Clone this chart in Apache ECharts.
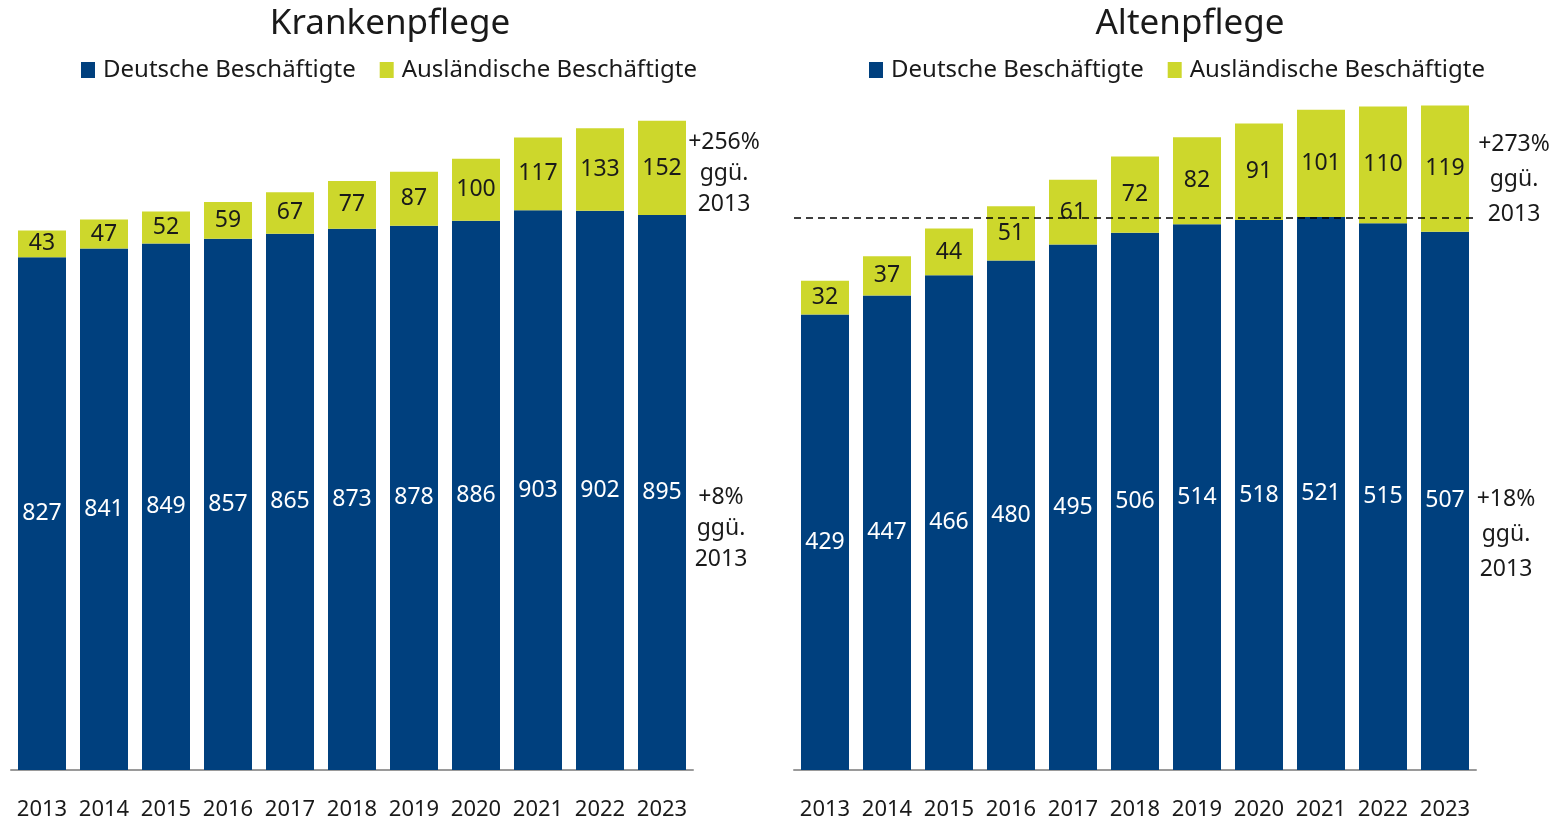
<!DOCTYPE html>
<html>
<head>
<meta charset="utf-8">
<script src="https://cdn.jsdelivr.net/npm/echarts@6/dist/echarts.min.js"></script>
<style>
html,body{margin:0;padding:0;background:#fff;}
#c{width:1558px;height:821px;}
</style>
</head>
<body>
<div id="c"></div>
<script>
const years = ['2013','2014','2015','2016','2017','2018','2019','2020','2021','2022','2023'];
const krankenDeutsche = [827, 841, 849, 857, 865, 873, 878, 886, 903, 902, 895];
const krankenAuslaender = [43, 47, 52, 59, 67, 77, 87, 100, 117, 133, 152];
const altenDeutsche = [429, 447, 466, 480, 495, 506, 514, 518, 521, 515, 507];
const altenAuslaender = [32, 37, 44, 51, 61, 72, 82, 91, 101, 110, 119];
const altenReferenz = 520;
const titles = ['Krankenpflege', 'Altenpflege'];
const seriesNames = ['Deutsche Beschäftigte', 'Ausländische Beschäftigte'];
const krankenNotes = ['+256%\nggü.\n2013', '+8%\nggü.\n2013'];
const altenNotes = ['+273%\nggü.\n2013', '+18%\nggü.\n2013'];

const NAVY = '#00407E';
const LIME = '#CDD72C';
const FONT = '"Noto Sans", sans-serif';
const TXT = '#1a1a1a';

const chart = echarts.init(document.getElementById('c'), null, {renderer: 'canvas'});

function xAxis(gi){
  return {
    type: 'category', gridIndex: gi, data: years,
    axisLine: {lineStyle: {color: '#9a9a9a', width: 2}},
    axisTick: {show: false},
    axisLabel: {color: TXT, fontSize: 22, fontFamily: FONT, margin: 29, interval: 0}
  };
}
function yAxis(gi, max){
  return {type: 'value', gridIndex: gi, min: 0, max: max, show: false, splitLine: {show: false}};
}
function bars(gi, name, data, color, labelColor, extra){
  return Object.assign({
    type: 'bar', name: name, xAxisIndex: gi, yAxisIndex: gi, stack: 's' + gi,
    data: data, barWidth: 48,
    itemStyle: {color: color},
    label: {show: true, position: 'inside', color: labelColor, fontSize: 23, fontFamily: FONT},
    emphasis: {disabled: true}
  }, extra || {});
}
function note(cx, cy, text, lh){
  return {type: 'text', x: cx, y: cy,
    style: {text: text, fill: TXT, font: '23px ' + FONT, textAlign: 'center', textVerticalAlign: 'middle', lineHeight: lh}};
}
function legend(left){
  return {left: left, top: 53, orient: 'horizontal', data: seriesNames,
    icon: 'rect', itemWidth: 14, itemHeight: 16, itemGap: 24,
    textStyle: {fontSize: 24, color: TXT, fontFamily: FONT, padding: [0, 0, 0, 3]},
    selectedMode: false};
}

chart.setOption({
  animation: false,
  title: [
    {text: titles[0], left: 385, top: 2, textAlign: 'center', textStyle: {fontSize: 35, fontWeight: 'normal', color: TXT, fontFamily: FONT}},
    {text: titles[1], left: 1185, top: 2, textAlign: 'center', textStyle: {fontSize: 35, fontWeight: 'normal', color: TXT, fontFamily: FONT}}
  ],
  legend: [legend(76), legend(864)],
  grid: [
    {left: 11, width: 682, top: 88, bottom: 51},
    {left: 794, width: 682, top: 80, bottom: 51}
  ],
  xAxis: [xAxis(0), xAxis(1)],
  yAxis: [yAxis(0, 1100), yAxis(1, 650)],
  series: [
    bars(0, seriesNames[0], krankenDeutsche, NAVY, '#ffffff'),
    bars(0, seriesNames[1], krankenAuslaender, LIME, TXT),
    bars(1, seriesNames[0], altenDeutsche, NAVY, '#ffffff', {
      markLine: {silent: true, symbol: ['none', 'none'], label: {show: false},
        lineStyle: {color: '#000', type: [7, 5], width: 1.5},
        data: [{yAxis: altenReferenz}]}
    }),
    bars(1, seriesNames[1], altenAuslaender, LIME, TXT)
  ],
  graphic: [
    note(724, 173, krankenNotes[0], 31),
    note(721, 528, krankenNotes[1], 31),
    note(1514, 179, altenNotes[0], 35),
    note(1506, 534, altenNotes[1], 35)
  ]
});
</script>
</body>
</html>
